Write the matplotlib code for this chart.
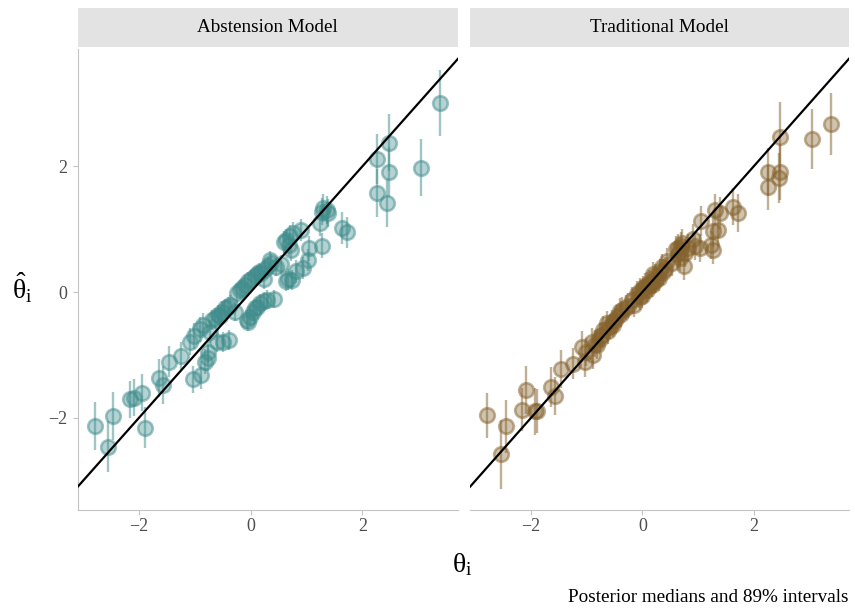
import numpy as np
import matplotlib
matplotlib.use("Agg")
import matplotlib.pyplot as plt
from matplotlib.patches import Rectangle

plt.rcParams["font.family"] = ["Liberation Serif", "DejaVu Serif"]
plt.rcParams["mathtext.fontset"] = "custom"
plt.rcParams["mathtext.rm"] = "Liberation Serif"
plt.rcParams["mathtext.it"] = "Liberation Serif:italic"

# true ideal points (shared by both models)
theta = [-2.79, -2.55, -2.46, -2.16, -2.10, -1.94, -1.89, -1.64, -1.58, -1.46,
         -1.25, -1.09, -1.01, -0.91, -1.03, -0.89, -0.82, -0.76, -0.77, -0.73,
         -0.64, -0.58, -0.61, -0.49, -0.39, -0.55, -0.46, -0.40, -0.37, -0.29,
         -0.19, -0.16, -0.10, -0.04, 0.01, 0.08, 0.12, 0.19, 0.25, 0.31,
         0.37, 0.35, 0.54, 0.23, 0.45, -0.07, -0.04, -0.01, 0.05, 0.08,
         0.11, 0.17, 0.23, 0.29, 0.41, 0.64, 0.67, 0.74, 0.82, 0.94,
         1.03, 1.05, 1.27, 0.64, 0.70, 0.76, 0.72, 0.91, 0.68, 1.24,
         1.30, 1.36, 1.39, 1.27, 1.63, 1.72, 2.26, 2.26, 2.48, 2.48,
         2.45, 3.05, 3.40, -0.85, -0.70, -0.52, -0.25, 0.15, 0.60]

# posterior medians, abstention model
est_abst = [-2.13, -2.46, -1.97, -1.71, -1.68, -1.60, -2.16, -1.37, -1.48, -1.11,
            -1.02, -0.79, -0.70, -0.59, -1.39, -1.32, -1.11, -1.05, -0.95, -0.63,
            -0.41, -0.36, -0.79, -0.79, -0.76, -0.38, -0.26, -0.23, -0.20, -0.31,
            0.04, 0.06, 0.12, 0.17, 0.20, 0.25, 0.28, 0.30, 0.36, 0.41,
            0.46, 0.51, 0.44, 0.20, 0.40, -0.44, -0.47, -0.39, -0.31, -0.26,
            -0.23, -0.18, -0.15, -0.12, -0.11, 0.17, 0.20, 0.19, 0.33, 0.38,
            0.51, 0.70, 0.74, 0.83, 0.89, 0.94, 0.67, 0.99, 0.75, 1.10,
            1.34, 1.31, 1.26, 1.28, 1.02, 0.95, 2.12, 1.58, 2.38, 1.91,
            1.42, 1.98, 3.01, -0.52, -0.45, -0.31, -0.02, 0.32, 0.80]

# posterior medians, traditional model
est_trad = [-1.96, -2.58, -2.14, -1.87, -1.56, -1.90, -1.90, -1.51, -1.65, -1.23,
            -1.14, -0.87, -0.95, -0.80, -1.11, -1.00, -0.85, -0.75, -0.70, -0.68,
            -0.50, -0.55, -0.62, -0.45, -0.35, -0.48, -0.40, -0.30, -0.28, -0.25,
            -0.12, -0.20, -0.03, -0.08, 0.06, 0.12, 0.09, 0.28, 0.20, 0.33,
            0.32, 0.40, 0.46, 0.18, 0.50, -0.05, 0.02, -0.06, 0.10, 0.04,
            0.15, 0.12, 0.25, 0.22, 0.36, 0.60, 0.55, 0.41, 0.70, 0.73,
            0.70, 1.13, 0.67, 0.70, 0.73, 0.62, 0.78, 0.85, 0.65, 0.75,
            1.31, 0.99, 1.26, 0.97, 1.36, 1.26, 1.91, 1.67, 2.47, 1.91,
            1.82, 2.44, 2.68, -0.82, -0.60, -0.52, -0.22, 0.14, 0.68]

# half-widths of the 89% intervals
hw_abst = [0.38, 0.40, 0.38, 0.30, 0.30, 0.30, 0.33, 0.30, 0.30, 0.25,
           0.22, 0.22, 0.20, 0.20, 0.22, 0.22, 0.20, 0.20, 0.18, 0.18,
           0.16, 0.16, 0.16, 0.16, 0.16, 0.16, 0.15, 0.15, 0.15, 0.15,
           0.15, 0.15, 0.15, 0.15, 0.15, 0.15, 0.15, 0.15, 0.15, 0.15,
           0.15, 0.15, 0.15, 0.15, 0.15, 0.15, 0.15, 0.15, 0.15, 0.15,
           0.15, 0.15, 0.15, 0.15, 0.15, 0.16, 0.16, 0.16, 0.18, 0.18,
           0.18, 0.20, 0.20, 0.18, 0.18, 0.18, 0.18, 0.18, 0.18, 0.20,
           0.22, 0.22, 0.22, 0.22, 0.25, 0.25, 0.40, 0.38, 0.45, 0.40,
           0.38, 0.45, 0.52, 0.18, 0.16, 0.16, 0.15, 0.15, 0.18]

hw_trad = [0.36, 0.55, 0.42, 0.35, 0.38, 0.38, 0.35, 0.32, 0.30, 0.30,
           0.25, 0.25, 0.22, 0.22, 0.25, 0.22, 0.22, 0.20, 0.20, 0.20,
           0.20, 0.20, 0.20, 0.20, 0.20, 0.20, 0.20, 0.20, 0.20, 0.20,
           0.20, 0.20, 0.20, 0.20, 0.20, 0.20, 0.20, 0.20, 0.20, 0.20,
           0.20, 0.20, 0.20, 0.20, 0.20, 0.20, 0.20, 0.20, 0.20, 0.20,
           0.20, 0.20, 0.20, 0.20, 0.20, 0.22, 0.22, 0.22, 0.22, 0.22,
           0.22, 0.24, 0.22, 0.22, 0.22, 0.22, 0.22, 0.24, 0.22, 0.22,
           0.25, 0.25, 0.25, 0.25, 0.30, 0.30, 0.38, 0.36, 0.55, 0.45,
           0.40, 0.48, 0.49, 0.22, 0.22, 0.20, 0.20, 0.20, 0.22]

panels = ["Abstension Model", "Traditional Model"]
colors = [(0.25, 0.55, 0.55), (0.52, 0.39, 0.18)]
ticks = [-2, 0, 2]

W, H = 855, 612
fig = plt.figure(figsize=(W / 100, H / 100), dpi=100)

AXIS_GREY = "#c4c4c4"
TICK_GREY = "#4d4d4d"


def px_box(x0, y0, x1, y1):
    return [x0 / W, 1 - y1 / H, (x1 - x0) / W, (y1 - y0) / H]


boxes = [(77.7, 49, 458, 510), (470, 49, 849, 510)]
series = [(est_abst, hw_abst), (est_trad, hw_trad)]

th = np.array(theta)
for i, (box, (est, hw), col, title) in enumerate(zip(boxes, series, colors, panels)):
    ax = fig.add_axes(px_box(*box))
    est = np.array(est)
    hw = np.array(hw)
    for x, y, h in zip(th, est, hw):
        ax.plot([x, x], [y - h, y + h], color=col + (0.5,), lw=1.7,
                solid_capstyle="butt", zorder=2)
        ax.plot(x, y, "o", ms=10.5, mfc=col + (0.38,), mec=col + (0.5,),
                mew=1.9, zorder=2)
    ax.axline((0, 0), slope=1, color="black", lw=1.6, zorder=3)

    ax.set_xlim(-3.10, 3.715)
    ax.set_ylim(-3.47, 3.87)
    ax.set_xticks(ticks)
    ax.set_xticklabels(["\u22122", "0", "2"])
    ax.set_yticks(ticks)
    ax.set_yticklabels(["\u22122", "0", "2"])
    for side in ["top", "right"]:
        ax.spines[side].set_visible(False)
    ax.spines["bottom"].set_color(AXIS_GREY)
    ax.spines["left"].set_color(AXIS_GREY)
    ax.tick_params(colors=AXIS_GREY, labelcolor=TICK_GREY, labelsize=13,
                   length=3.5, width=0.8)
    ax.tick_params(axis="x", pad=2.5)
    ax.tick_params(axis="y", pad=4)
    if i == 1:
        ax.spines["left"].set_visible(False)
        ax.tick_params(axis="y", left=False, labelleft=False)

    # facet strip
    x0, _, x1, _ = box
    strip = Rectangle((x0 / W, 1 - 47 / H), (x1 - x0) / W, 39 / H,
                      transform=fig.transFigure, facecolor="#e3e3e3",
                      edgecolor="none")
    fig.patches.append(strip)
    fig.text((x0 + x1) / 2 / W, 1 - 27.5 / H, title, ha="center", va="center",
             fontsize=13.8)

fig.text(22 / W, 1 - 288 / H, r"$\hat{\mathrm{\theta}}_{\mathrm{i}}$",
         ha="center", va="center", fontsize=20)
fig.text(462 / W, 1 - 565 / H, r"$\mathrm{\theta}_{\mathrm{i}}$",
         ha="center", va="center", fontsize=20)
fig.text(848 / W, 1 - 597 / H, "Posterior medians and 89% intervals",
         ha="right", va="center", fontsize=13.8)

fig.savefig("out.png", dpi=100)
